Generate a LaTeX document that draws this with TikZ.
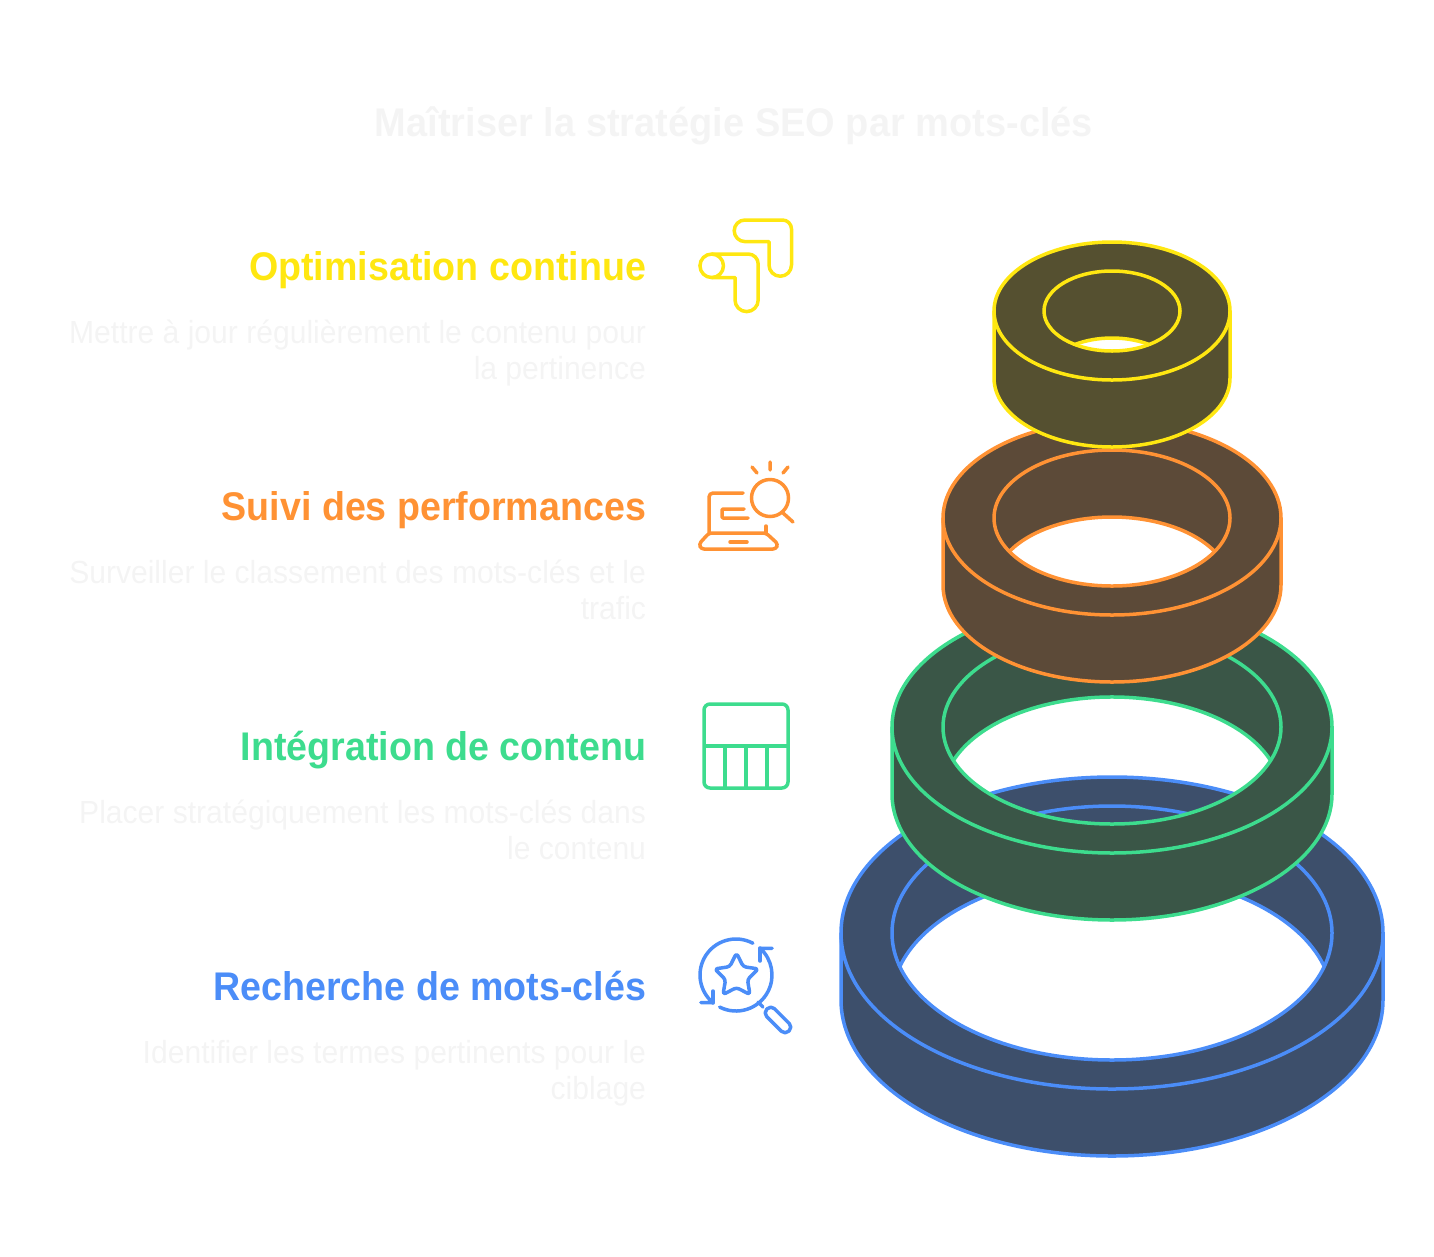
\documentclass[tikz,border=0pt]{standalone}
\usepackage{fontspec}
\setmainfont[FakeStretch=0.94]{Liberation Sans}
\newfontfamily\titlefont[FakeStretch=0.95]{Liberation Sans}
\definecolor{lineyellow}{HTML}{FFE711}
\definecolor{lineorange}{HTML}{FF9234}
\definecolor{linegreen}{HTML}{3DDC8E}
\definecolor{lineblue}{HTML}{4B8DF8}
\definecolor{fillyellow}{HTML}{555030}
\definecolor{fillorange}{HTML}{5C4A38}
\definecolor{fillgreen}{HTML}{3A5647}
\definecolor{fillblue}{HTML}{3D4F6B}
\definecolor{paletext}{HTML}{F4F4F4}
\tikzset{
  heading/.style={anchor=base east,font=\fontsize{40}{40}\selectfont\bfseries},
  detail/.style={anchor=base east,align=right,text=paletext,font=\fontsize{32}{36}\selectfont},
  icon/.style={line width=3.5pt,line cap=round,line join=round},
}
\begin{document}
\begin{tikzpicture}[x=1pt,y=-1pt,outer sep=0pt,inner sep=0pt]
    \useasboundingbox (0,0) rectangle (1434,1256);
    \node[anchor=base,font=\titlefont\fontsize{40}{40}\selectfont\bfseries,text=paletext] (title) at (734,136) {Maîtriser la stratégie SEO par mots-clés};
    \node[heading,text=lineyellow] (h4) at (646,280) {Optimisation continue};
    \node[detail] (d4) at (646,379) {Mettre à jour régulièrement le contenu pour\\la pertinence};
    \node[heading,text=lineorange] (h3) at (646,520) {Suivi des performances};
    \node[detail] (d3) at (646,619) {Surveiller le classement des mots-clés et le\\trafic};
    \node[heading,text=linegreen] (h2) at (646,760) {Intégration de contenu};
    \node[detail] (d2) at (646,859) {Placer stratégiquement les mots-clés dans\\le contenu};
    \node[heading,text=lineblue] (h1) at (646,1000) {Recherche de mots-clés};
    \node[detail] (d1) at (646,1099) {Identifier les termes pertinents pour le\\ciblage};
    % rings, bottom one first
    \foreach \cy/\rx/\ry/\ix/\iy/\lc/\fc in {933/271/156/220/127/lineblue/fillblue,
        727/220/126/169/97/linegreen/fillgreen,
        518/169/97/118/68/lineorange/fillorange,
        311/118/69/68/40/lineyellow/fillyellow}{
      \pgfmathsetmacro{\ang}{asin(67/(2*\iy))}
      \pgfmathsetmacro{\cxa}{1112+\ix*cos(\ang)}
      \fill[\fc,even odd rule] (1112-\rx,\cy) arc[start angle=180,end angle=360,x radius=\rx,y radius=\ry]
        -- ++(0,67) arc[start angle=0,end angle=180,x radius=\rx,y radius=\ry] -- cycle
        (\cxa,\cy+33.5) arc[start angle=-\ang,end angle=-180+\ang,x radius=\ix,y radius=\iy]
        arc[start angle=180-\ang,end angle=\ang,x radius=\ix,y radius=\iy] -- cycle;
      \draw[\lc,icon] (1112-\rx,\cy) arc[start angle=180,end angle=360,x radius=\rx,y radius=\ry]
        -- ++(0,67) arc[start angle=0,end angle=180,x radius=\rx,y radius=\ry] -- cycle;
      \draw[\lc,icon] (1112-\rx,\cy) arc[start angle=180,end angle=0,x radius=\rx,y radius=\ry];
      \draw[\lc,icon] (1112,\cy) ellipse[x radius=\ix,y radius=\iy];
      \draw[\lc,icon] (\cxa,\cy+33.5) arc[start angle=-\ang,end angle=-180+\ang,x radius=\ix,y radius=\iy];
    }
    % yellow icon
    \draw[icon,lineyellow] (745,220) -- (782.5,220) arc[start angle=-90,end angle=0,radius=9] -- (791.5,265)
      arc[start angle=0,end angle=180,radius=11.25] -- (769,241.6) -- (745,241.6)
      arc[start angle=90,end angle=270,radius=10.8] -- cycle;
    \draw[icon,lineyellow] (712,254) -- (748.2,254) arc[start angle=-90,end angle=0,radius=10] -- (758.2,300)
      arc[start angle=0,end angle=180,radius=11.6] -- (735,277.5) -- (712,277.5);
    \draw[icon,lineyellow] (711.7,265.8) circle[radius=11.75];
    % orange icon
    \draw[icon,lineorange] (770,462) -- (770,470) (752,467) -- (757,473) (788,467) -- (783,473);
    \draw[icon,lineorange] (770,498) circle[radius=18.5];
    \draw[icon,lineorange] (783,513) -- (793,522);
    \draw[icon,lineorange,rounded corners=4] (743,493) -- (709,493) -- (709,533);
    \draw[icon,lineorange] (766,526) -- (766,533);
    \draw[icon,lineorange,rounded corners=3] (709,533) -- (699,544) -- (701,549) -- (776,549) -- (778,544) -- (766,533) -- cycle;
    \draw[icon,lineorange,rounded corners=1] (744,509) -- (722,509) -- (722,518) -- (748,518);
    \draw[icon,lineorange] (730,542) -- (747,542);
    % green icon
    \draw[icon,linegreen,rounded corners=6] (704,704) rectangle (788,788);
    \draw[icon,linegreen,line cap=butt] (704,746) -- (788,746) (725,746) -- (725,788) (746,746) -- (746,788) (767,746) -- (767,788);
    % blue icon
    \draw[icon,lineblue] (736,975) ++(-62:36) arc[start angle=-62,end angle=-230,radius=36] -- ++(-12,0);
    \draw[icon,lineblue] (713,991) -- (713,1003);
    \draw[icon,lineblue] (736,975) ++(117:36) arc[start angle=117,end angle=-48,radius=36] -- ++(12,0);
    \draw[icon,lineblue] (760,961) -- (760,948);
    \draw[icon,lineblue,rounded corners=3] (736.5,976)
      +(-90:23) -- +(-54:11.5) -- +(-18:23) -- +(18:11.5) -- +(54:23) -- +(90:11.5)
      -- +(126:23) -- +(162:11.5) -- +(198:23) -- +(234:11.5) -- cycle;
    \draw[icon,lineblue] (758,1002) -- (763,1007);
    \draw[icon,lineblue,rounded corners=5,shift={(767,1009)},rotate=-45] (0,-5.5) rectangle (31,5.5);
\end{tikzpicture}
\end{document}
